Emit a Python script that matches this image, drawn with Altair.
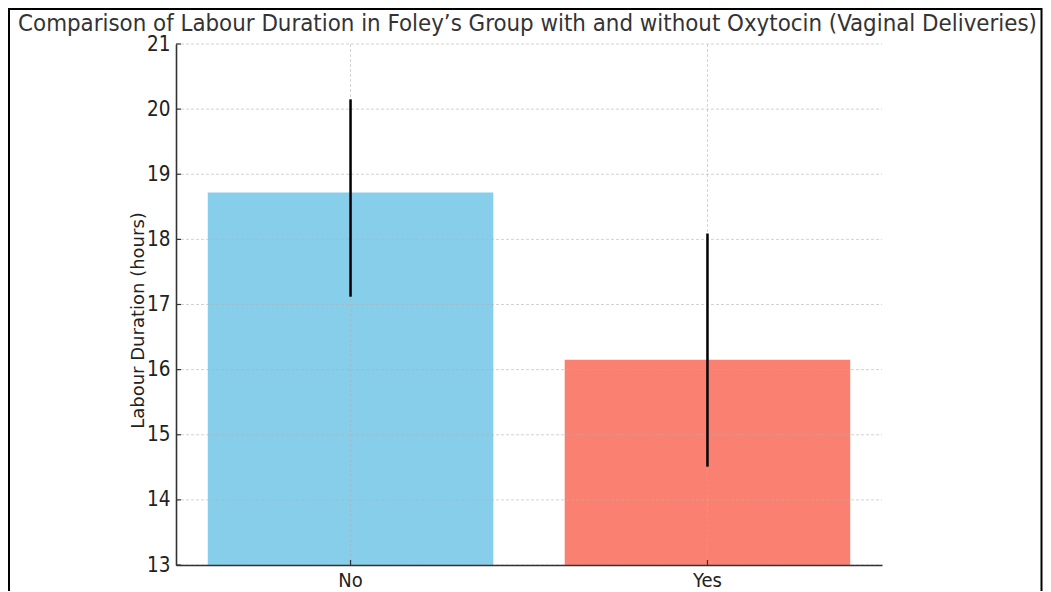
import altair as alt
import pandas as pd

# ---- data ----
groups = ["No", "Yes"]
means = [18.72, 16.15]
err_low = [17.12, 14.51]
err_high = [20.15, 18.09]
bar_colors = ["#87CEEB", "#FA8072"]
y_ticks = [13, 14, 15, 16, 17, 18, 19, 20, 21]
Y_MIN, Y_MAX = 13, 21

TITLE = "Comparison of Labour Duration in Foley\u2019s Group with and without Oxytocin (Vaginal Deliveries)"
Y_TITLE = "Labour Duration (hours)"

PLOT_W, PLOT_H = 706, 521
FONT = "Liberation Sans Narrow, DejaVu Sans Condensed, DejaVu Sans"

df = pd.DataFrame({"group": groups, "mean": means, "lo": err_low, "hi": err_high, "color": bar_colors})
ticks_df = pd.DataFrame({"v": y_ticks})
title_df = pd.DataFrame({"t": [TITLE]})

xscale = alt.Scale(domain=groups, paddingInner=0.2, paddingOuter=0.089)
yscale = alt.Scale(domain=[Y_MIN, Y_MAX], nice=False, zero=False)

x_axis = alt.Axis(
    title=None, labelAngle=0, ticks=False, labelPadding=5, grid=False,
    labelFontSize=20, labelFont=FONT, labelColor="#222222",
    domainColor="#333333", domainWidth=1.6, bandPosition=0.5, zindex=1,
)
y_axis = alt.Axis(
    title=Y_TITLE, values=y_ticks, format="d", ticks=False, labelPadding=6, grid=False,
    labelFontSize=20.5, labelFont=FONT, labelColor="#222222",
    domainColor="#333333", domainWidth=1.6,
    titleFont="DejaVu Sans", titleFontSize=18, titleFontWeight="normal", titleColor="#222222",
    titleAngle=270, titleX=-38, titleY=276, titleAlign="center", titleBaseline="middle",
    zindex=1,
)

GRID = dict(color="#b0b0b0", opacity=0.7, strokeDash=[3, 2], strokeWidth=0.8)

bars = alt.Chart(df).mark_bar().encode(
    x=alt.X("group:N", scale=xscale, axis=x_axis, sort=groups),
    y=alt.Y("mean:Q", scale=yscale, axis=y_axis),
    y2=alt.datum(Y_MIN),
    color=alt.Color("color:N", scale=None),
)

ygrid = alt.Chart(ticks_df).mark_rule(**GRID).encode(
    y="v:Q", x=alt.value(0), x2=alt.value(PLOT_W)
)
xgrid = alt.Chart(df).mark_rule(**GRID).encode(
    x=alt.X("group:N", sort=groups), y=alt.value(0), y2=alt.value(PLOT_H)
)

errs = alt.Chart(df).mark_rule(color="black", strokeWidth=2.5).encode(
    x=alt.X("group:N", sort=groups),
    y="lo:Q",
    y2="hi:Q",
)

ytick_marks = alt.Chart(ticks_df).mark_rule(color="#333333", strokeWidth=1.2).encode(
    y="v:Q", x=alt.value(0), x2=alt.value(5)
)
xtick_marks = alt.Chart(df).mark_rule(color="#333333", strokeWidth=1.2).encode(
    x=alt.X("group:N", sort=groups), y=alt.value(PLOT_H), y2=alt.value(PLOT_H - 5)
)

title = alt.Chart(title_df).mark_text(
    font=FONT, fontSize=23.8, color="#333333", align="center", baseline="alphabetic"
).encode(text="t:N", x=alt.value(PLOT_W / 2 - 1.5), y=alt.value(-13))

frame = alt.Chart(title_df).mark_rect(filled=False, stroke="black", strokeWidth=2).encode(
    x=alt.value(-167), x2=alt.value(865.5), y=alt.value(-35), y2=alt.value(600)
)

chart = alt.layer(frame, bars, ygrid, xgrid, errs, ytick_marks, xtick_marks, title).properties(
    width=PLOT_W,
    height=PLOT_H,
    padding={"left": 168, "top": 36, "right": 161, "bottom": 26},
    autosize=alt.AutoSizeParams(type="none"),
).configure_view(stroke=None)

chart.save("out.html", embed_options={"renderer": "svg", "actions": False})
